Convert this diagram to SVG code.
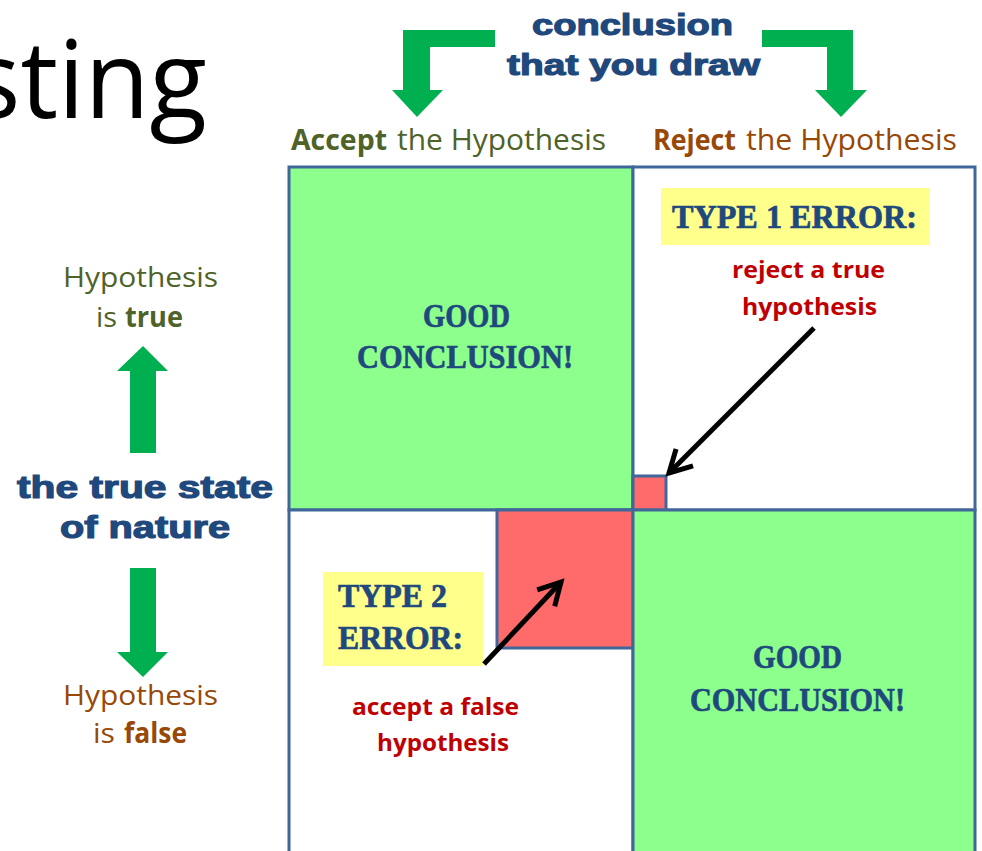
<svg xmlns="http://www.w3.org/2000/svg" width="982" height="851" viewBox="0 0 982 851">
<defs>
<style>
.cell{stroke:#41679A;stroke-width:3}
.green{fill:#8CFF8C}
.white{fill:#FFFFFF}
.red{fill:#FF6B6B}
.yellow{fill:#FFFF8C}
.garrow{fill:#00B050}
.cal{font-family:"Open Sans","Liberation Sans",sans-serif}
.blk{font-family:"Liberation Sans",Arial,sans-serif;font-weight:bold;fill:#1F497D;stroke:#1F497D;stroke-width:1.2}
.sten{font-family:"Liberation Serif","Times New Roman",serif;font-weight:bold;fill:#1F497D;stroke:#1F497D;stroke-width:0.7}
.redtxt{font-family:"Open Sans","Liberation Sans",sans-serif;font-weight:bold;fill:#C00000;font-size:24px}
.olive{fill:#4F6228}
.brown{fill:#984807}
.conn{stroke:#000;stroke-width:5;fill:none}
</style>
<marker id="vhead" markerUnits="userSpaceOnUse" markerWidth="40" markerHeight="40" refX="0" refY="0" viewBox="-30 -20 40 40" orient="auto" overflow="visible">
<path d="M-22,-12 L0,0 L-22,12" fill="none" stroke="#000" stroke-width="5" stroke-linejoin="miter"/>
</marker>
</defs>
<rect width="982" height="851" fill="#FFFFFF"/>

<g id="title">
<text class="cal" x="-30" y="118" font-size="108" fill="#000" textLength="237" lengthAdjust="spacingAndGlyphs">sting</text>
</g>

<g id="conclusion-header">
<text class="blk" x="532" y="35" font-size="30" textLength="201" lengthAdjust="spacingAndGlyphs">conclusion</text>
<text class="blk" x="507" y="75" font-size="30" textLength="253" lengthAdjust="spacingAndGlyphs">that you draw</text>
<polygon class="garrow" points="495,30 403,30 403,90 392,90 417,117 443,90 430,90 430,47 495,47"/>
<polygon class="garrow" points="762,30 853,30 853,90 867,90 841,117 815,90 827,90 827,47 762,47"/>
</g>

<g id="col-accept">
<text class="cal olive" x="291" y="150" font-size="29" font-weight="bold" textLength="96" lengthAdjust="spacingAndGlyphs">Accept</text>
<text class="cal olive" x="397" y="150" font-size="29" textLength="209" lengthAdjust="spacingAndGlyphs">the Hypothesis</text>
</g>
<g id="col-reject">
<text class="cal brown" x="653" y="150" font-size="29" font-weight="bold" textLength="83" lengthAdjust="spacingAndGlyphs">Reject</text>
<text class="cal brown" x="746" y="150" font-size="29" textLength="211" lengthAdjust="spacingAndGlyphs">the Hypothesis</text>
</g>

<g id="state-of-nature">
<text class="cal olive" x="63" y="287" font-size="28" textLength="155" lengthAdjust="spacingAndGlyphs">Hypothesis</text>
<text class="cal olive" x="96" y="327" font-size="28" textLength="21" lengthAdjust="spacingAndGlyphs">is</text>
<text class="cal olive" x="125" y="327" font-size="28" font-weight="bold" textLength="58" lengthAdjust="spacingAndGlyphs">true</text>
<polygon class="garrow" points="143,346 168,371 156,371 156,453 130,453 130,371 117,371"/>
<text class="blk" x="17" y="498" font-size="32" textLength="256" lengthAdjust="spacingAndGlyphs">the true state</text>
<text class="blk" x="60" y="538" font-size="32" textLength="170" lengthAdjust="spacingAndGlyphs">of nature</text>
<polygon class="garrow" points="130,568 156,568 156,652 168,652 143,677 117,652 130,652"/>
<text class="cal brown" x="63" y="705" font-size="28" textLength="155" lengthAdjust="spacingAndGlyphs">Hypothesis</text>
<text class="cal brown" x="93" y="743" font-size="28" textLength="22" lengthAdjust="spacingAndGlyphs">is</text>
<text class="cal brown" x="124" y="743" font-size="28" font-weight="bold" textLength="63" lengthAdjust="spacingAndGlyphs">false</text>
</g>

<g id="cell-true-accept">
<rect class="cell green" x="289" y="167" width="344" height="343"/>
<text class="sten" x="423" y="327" font-size="34" textLength="87" lengthAdjust="spacingAndGlyphs">GOOD</text>
<text class="sten" x="357" y="368" font-size="34" textLength="216" lengthAdjust="spacingAndGlyphs">CONCLUSION!</text>
</g>

<g id="cell-true-reject">
<rect class="cell white" x="633" y="167" width="342" height="343"/>
<rect class="yellow" x="661" y="188" width="269" height="57"/>
<text class="sten" x="672" y="228" font-size="33" textLength="245" lengthAdjust="spacingAndGlyphs">TYPE 1 ERROR:</text>
<text class="redtxt" x="732" y="278" textLength="153" lengthAdjust="spacingAndGlyphs">reject a true</text>
<text class="redtxt" x="742" y="315" textLength="135" lengthAdjust="spacingAndGlyphs">hypothesis</text>
<rect class="cell red" x="633" y="476" width="33" height="34"/>
</g>

<g id="cell-false-accept">
<rect class="cell white" x="289" y="510" width="344" height="360"/>
<rect class="cell red" x="497" y="510" width="136" height="138"/>
<rect class="yellow" x="323" y="572" width="160" height="94"/>
<text class="sten" x="338" y="607" font-size="33" textLength="109" lengthAdjust="spacingAndGlyphs">TYPE 2</text>
<text class="sten" x="338" y="649" font-size="33" textLength="125" lengthAdjust="spacingAndGlyphs">ERROR:</text>
<text class="redtxt" x="352" y="715" textLength="167" lengthAdjust="spacingAndGlyphs">accept a false</text>
<text class="redtxt" x="377" y="751" textLength="132" lengthAdjust="spacingAndGlyphs">hypothesis</text>
</g>

<g id="cell-false-reject">
<rect class="cell green" x="633" y="510" width="342" height="360"/>
<text class="sten" x="753" y="668" font-size="34" textLength="89" lengthAdjust="spacingAndGlyphs">GOOD</text>
<text class="sten" x="690" y="711" font-size="34" textLength="215" lengthAdjust="spacingAndGlyphs">CONCLUSION!</text>
</g>

<g id="connectors">
<line class="conn" x1="814" y1="328" x2="669" y2="473" marker-end="url(#vhead)"/>
<line class="conn" x1="484" y1="664" x2="561" y2="582" marker-end="url(#vhead)"/>
</g>
</svg>
